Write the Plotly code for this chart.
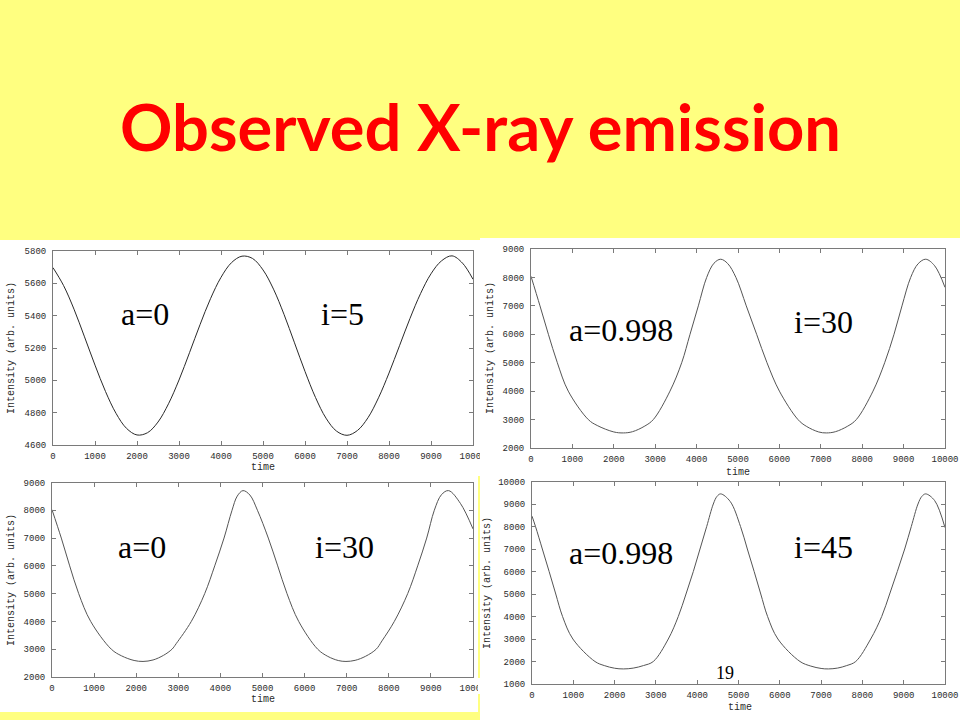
import plotly.graph_objects as go

W, H = 960, 720

# ---------------- data ----------------
# Panel 1: a=0, i=5
t1 = [0, 250, 500, 750, 1000, 1250, 1500, 1750, 2000, 2250, 2500, 2750, 3000, 3250,
      3500, 3750, 4000, 4250, 4500, 4750, 5000, 5250, 5500, 5750, 6000, 6250, 6500,
      6750, 7000, 7250, 7500, 7750, 8000, 8250, 8500, 8750, 9000, 9250, 9500, 9750, 10000]
i1 = [5697, 5587, 5440, 5269, 5094, 4931, 4796, 4703, 4662, 4676, 4742, 4855, 5002, 5171,
      5344, 5505, 5637, 5728, 5768, 5754, 5683, 5564, 5408, 5232, 5055, 4894, 4766,
      4686, 4660, 4690, 4769, 4892, 5045, 5214, 5383, 5536, 5659, 5739, 5770, 5725, 5625]

# Panel 2: a=0.998, i=30
t2 = [0, 217, 420, 636, 900, 1384, 1600, 2000, 2230, 2450, 2750, 2954, 3357, 3640, 3841, 4042, 4243,
      4420, 4582, 4750, 4950, 5200, 5450, 5700, 6000, 6449, 6650, 6950, 7133, 7350, 7650, 7858, 8261,
      8543, 8768, 8961, 9171, 9350, 9534, 9750, 10000]
i2 = [8040, 7000, 6000, 5000, 4000, 3000, 2791, 2565, 2530, 2573, 2773, 3000, 4000, 5000, 6000, 7000, 8000,
      8500, 8640, 8490, 8000, 7000, 6000, 5000, 4000, 3000, 2764, 2564, 2530, 2572, 2769, 3000, 4000,
      5000, 6000, 7000, 8000, 8480, 8640, 8410, 7650]

# Panel 3: a=0, i=30
t3 = [0, 221, 420, 634, 919, 1409, 1650, 1950, 2162, 2400, 2650, 2850, 2950, 3309, 3627, 3865, 4086,
      4276, 4400, 4537, 4700, 4880, 5138, 5361, 5582, 5860, 6311, 6550, 6800, 6983, 7200, 7450, 7700,
      7838, 8131, 8449, 8686, 8900, 9081, 9250, 9420, 9700, 10000]
i3 = [8020, 7000, 6000, 5000, 4000, 3000, 2763, 2595, 2560, 2613, 2781, 3000, 3200, 4000, 5000, 6000, 7000,
      8000, 8510, 8708, 8550, 8000, 7000, 6000, 5000, 4000, 3000, 2743, 2593, 2560, 2600, 2747, 3000,
      3300, 4000, 5000, 6000, 7000, 8000, 8560, 8708, 8250, 7330]

# Panel 4: a=0.998, i=45
t4 = [0, 85, 250, 415, 575, 740, 990, 1525, 1750, 2000, 2211, 2450, 2700, 2937, 3300, 3542, 3729, 3906,
      4068, 4230, 4390, 4480, 4569, 4800, 5049, 5214, 5379, 5539, 5704, 5954, 6489, 6750, 7000,
      7175, 7400, 7620, 7838, 8201, 8467, 8660, 8845, 9024, 9184, 9346, 9440, 9533, 9750, 10000]
i4 = [8460, 8000, 7000, 6000, 5000, 4000, 3000, 2000, 1819, 1701, 1670, 1706, 1820, 2000, 3000, 4000, 5000, 6000,
      7000, 8000, 9000, 9340, 9450, 9110, 8000, 7000, 6000, 5000, 4000, 3000, 2000, 1797, 1691,
      1670, 1708, 1819, 2000, 3000, 4000, 5000, 6000, 7000, 8000, 9000, 9340, 9450, 9150, 7950]

labels_a = ["a=0", "a=0.998", "a=0", "a=0.998"]
labels_i = ["i=5", "i=30", "i=30", "i=45"]
y_ranges = [[4600, 5800], [2000, 9000], [2000, 9000], [1000, 10000]]
y_dticks = [200, 1000, 1000, 1000]
x_range = [0, 10000]
title_text = "Observed X-ray emission"
x_title = "time"
y_title = "Intensity (arb. units)"
page_number = "19"

# ---------------- layout geometry (pixels) ----------------
def fx(px):
    return px / W

def fy(py):
    return 1 - py / H

# plot-area boxes: (left, right, top, bottom)
boxes = [(53, 473, 251, 445), (531, 945, 249, 448), (52, 473, 482.5, 677), (532, 945, 481.5, 684)]
# white picture backgrounds
pictures = [(0, 480, 240, 476), (480, 960, 238, 475), (0, 478, 476, 712), (480, 960, 475, 720)]

fig = go.Figure()
series = [(t1, i1), (t2, i2), (t3, i3), (t4, i4)]
line_cols = ["#2a2a2a", "#555555", "#555555", "#555555"]
for k, (t, v) in enumerate(series):
    sfx = "" if k == 0 else str(k + 1)
    fig.add_trace(go.Scatter(x=t, y=v, mode="lines",
                             line=dict(color=line_cols[k], width=1, shape="spline", smoothing=1.0),
                             xaxis="x" + sfx, yaxis="y" + sfx, showlegend=False, hoverinfo="skip"))

axis_common = dict(showgrid=False, zeroline=False, showline=True, linecolor="#7a7a7a", linewidth=1,
                   mirror="ticks", ticks="inside", ticklen=4, tickcolor="#7a7a7a", automargin=False,
                   tickfont=dict(family="Liberation Mono", size=9, color="#2a2a2a"), tickformat="d")

layout = dict(width=W, height=H, margin=dict(l=0, r=0, t=0, b=0, pad=0, autoexpand=False),
              paper_bgcolor="#FFFF80", plot_bgcolor="white", showlegend=False, hovermode=False)

shapes = []
annotations = []
for k, (l, r, t, b) in enumerate(boxes):
    sfx = "" if k == 0 else str(k + 1)
    layout["xaxis" + sfx] = dict(axis_common, domain=[fx(l), fx(r)], range=x_range, dtick=1000,
                                 anchor="y" + sfx, ticklabelstandoff=2)
    layout["yaxis" + sfx] = dict(axis_common, domain=[fy(b), fy(t)], range=y_ranges[k], dtick=y_dticks[k],
                                 anchor="x" + sfx, ticklabelstandoff=4)
    pl, pr, pt, pb = pictures[k]
    shapes.append(dict(type="rect", xref="paper", yref="paper", x0=fx(pl), x1=fx(pr), y0=fy(pb), y1=fy(pt),
                       fillcolor="white", line=dict(width=0), layer="below"))

# cut-off "10000" labels of the left pictures
shapes.append(dict(type="rect", xref="paper", yref="paper", x0=fx(480), x1=fx(494), y0=fy(464), y1=fy(446),
                   fillcolor="white", line=dict(width=0), layer="above"))
shapes.append(dict(type="rect", xref="paper", yref="paper", x0=fx(478), x1=fx(494), y0=fy(694), y1=fy(678),
                   fillcolor="white", line=dict(width=0), layer="above"))

# axis titles
xt_pos = [(263, 467), (738, 472), (263, 699), (740, 707)]
yt_pos = [(11, 348), (490, 348), (11, 580), (487, 583)]
for k in range(4):
    annotations.append(dict(text=x_title, x=fx(xt_pos[k][0]), y=fy(xt_pos[k][1]), xref="paper", yref="paper",
                            showarrow=False, xanchor="center", yanchor="middle",
                            font=dict(family="Liberation Mono", size=10, color="#2a2a2a")))
    annotations.append(dict(text=y_title, x=fx(yt_pos[k][0]), y=fy(yt_pos[k][1]), xref="paper", yref="paper",
                            showarrow=False, xanchor="center", yanchor="middle", textangle=-90,
                            font=dict(family="Liberation Mono", size=10, color="#2a2a2a")))

# panel labels
a_pos = [(145, 314), (621, 330), (142, 547), (621, 553)]
i_pos = [(342, 314), (823, 322), (344, 547), (823, 547)]
for k in range(4):
    annotations.append(dict(text=labels_a[k], x=fx(a_pos[k][0]), y=fy(a_pos[k][1]), xref="paper", yref="paper",
                            showarrow=False, xanchor="center", yanchor="middle",
                            font=dict(family="Liberation Serif", size=32, color="black")))
    annotations.append(dict(text=labels_i[k], x=fx(i_pos[k][0]), y=fy(i_pos[k][1]), xref="paper", yref="paper",
                            showarrow=False, xanchor="center", yanchor="middle",
                            font=dict(family="Liberation Serif", size=32, color="black")))

annotations.append(dict(text=page_number, x=fx(725), y=fy(673), xref="paper", yref="paper",
                        showarrow=False, xanchor="center", yanchor="middle",
                        font=dict(family="Liberation Serif", size=18, color="black")))

annotations.append(dict(text="<b>" + title_text + "</b>", x=fx(480), y=fy(126), xref="paper", yref="paper",
                        showarrow=False, xanchor="center", yanchor="middle",
                        font=dict(family="Lato", size=65, color="#FF0000")))

layout["shapes"] = shapes
layout["annotations"] = annotations
fig.update_layout(**layout)
fig.write_html("out.html", config={"displayModeBar": False, "responsive": False},
               post_script="document.body.style.margin='0';document.body.style.overflow='hidden';")
